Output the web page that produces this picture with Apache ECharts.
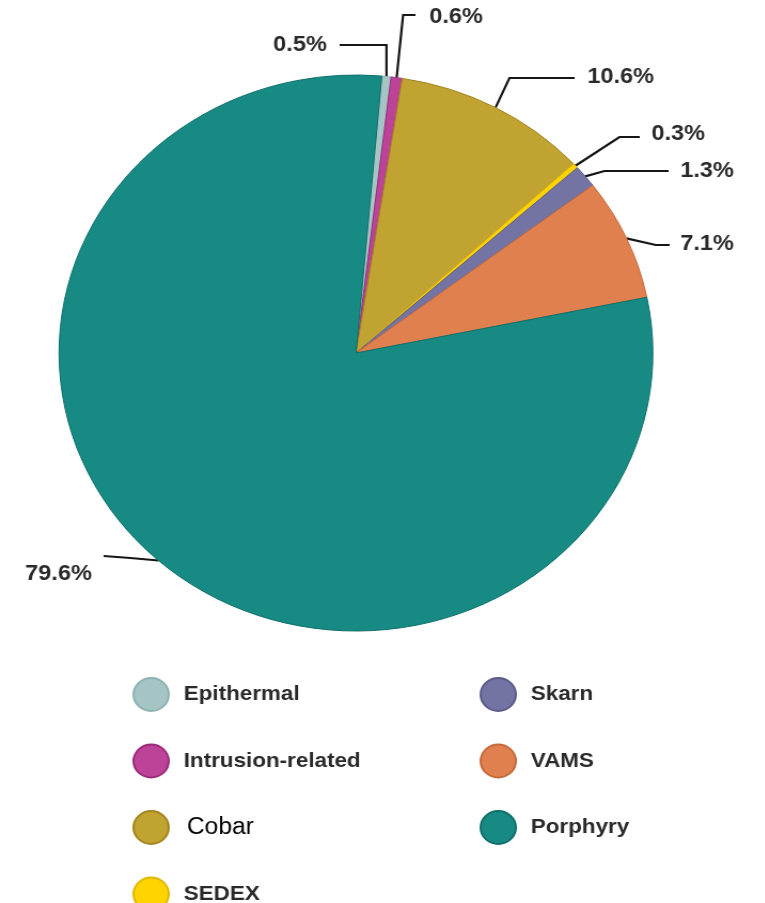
<!DOCTYPE html>
<html>
<head>
<meta charset="utf-8">
<script src="https://cdn.jsdelivr.net/npm/echarts@6/dist/echarts.min.js"></script>
<style>
  html, body { margin: 0; padding: 0; background: #fff; overflow: hidden; }
  #wrap { width: 765px; height: 903px; overflow: hidden; }
  #chart { height: 960px; transform-origin: 0 0; }
</style>
</head>
<body>
<div id="wrap"><div id="chart"></div></div>
<script>
// Deposit types and their share of the total (%)
const categories = ['Epithermal', 'Intrusion-related', 'Cobar', 'SEDEX', 'Skarn', 'VAMS', 'Porphyry'];
const shares = [0.5, 0.6, 10.6, 0.3, 1.3, 7.1, 79.6];

// Legend columns
const legendLeft = ['Epithermal', 'Intrusion-related', 'Cobar', 'SEDEX'];
const legendRight = ['Skarn', 'VAMS', 'Porphyry'];

// Slice fills and their darker outlines
const fills = ['#a5c5c5', '#bc4398', '#c1a331', '#fdd300', '#7474a4', '#e0804f', '#188a84'];
const edges = ['#8fb2b2', '#9b2c7c', '#a38620', '#e2b700', '#5c5c8b', '#c66a3b', '#0f706b'];

// The artwork is slightly wider than tall: draw in a narrower box and stretch it
const STRETCH = 1.068;
const W = 765 / STRETCH;

// Where each value label sits and how its connector bends (chart pixels)
const labelGuides = [
  { x: 306, y: 45,  align: 'right', bendDX: 0,  bendY: 45,  end: [318, 45] },
  { x: 402, y: 17,  align: 'left',  bendDX: 6,  bendY: 15,  end: [389, 15] },
  { x: 550, y: 77,  align: 'left',  bendX: 477, bendY: 78,  end: [538, 78] },
  { x: 610, y: 134, align: 'left',  bendX: 580, bendY: 137, end: [599, 137] },
  { x: 637, y: 171, align: 'left',  bendX: 566, bendY: 171, end: [626, 171] },
  { x: 637, y: 244, align: 'left',  bendX: 614, bendY: 245, end: [627, 245] },
  { x: 86,  y: 574, align: 'right', bendX: 122, bendY: 558, end: [97, 556] }
];

const el = document.getElementById('chart');
el.style.width = W + 'px';
el.style.transform = 'scaleX(' + STRETCH + ')';

const chart = echarts.init(el, null, { renderer: 'canvas' });

const FONT = '"Liberation Sans", Arial, Helvetica, sans-serif';

const pieData = categories.map((name, i) => ({
  name: name,
  value: shares[i],
  itemStyle: { color: fills[i], borderColor: edges[i], borderWidth: 1 }
}));

function legendBlock(names, left) {
  return {
    data: names,
    orient: 'vertical',
    left: left,
    top: 677,
    padding: 0,
    itemWidth: 33,
    itemHeight: 33,
    itemGap: 31.5,
    icon: 'circle',
    selectedMode: false,
    formatter: function (name) {
      return name === 'Cobar' ? '{plain|' + name + '}' : name;
    },
    textStyle: {
      fontFamily: FONT,
      fontSize: 21,
      fontWeight: 'bold',
      color: '#2a2a2a',
      padding: [0, 0, 0, 9],
      textBorderColor: '#ffffff',
      textBorderWidth: 2,
      rich: {
        plain: { fontFamily: FONT, fontSize: 23, fontWeight: 'normal', color: '#000000', padding: [0, 0, 0, 3] }
      }
    }
  };
}

chart.setOption({
  backgroundColor: '#ffffff',
  animation: false,
  legend: [legendBlock(legendLeft, 124), legendBlock(legendRight, 449)],
  series: [{
    type: 'pie',
    center: [333.3, 353],
    radius: 278,
    startAngle: 85,
    clockwise: true,
    avoidLabelOverlap: false,
    data: pieData,
    label: {
      show: true,
      position: 'outside',
      formatter: function (p) { return p.value.toFixed(1) + '%'; },
      fontFamily: FONT,
      fontSize: 22,
      fontWeight: 'bold',
      color: '#2a2a2a',
      textBorderColor: '#ffffff',
      textBorderWidth: 2
    },
    labelLine: {
      show: true,
      length: 20,
      length2: 20,
      smooth: false,
      lineStyle: { color: '#161616', width: 2.2 }
    },
    labelLayout: function (params) {
      const g = labelGuides[params.dataIndex];
      const pts = params.labelLinePoints;
      const start = pts && pts[0] ? pts[0] : [g.end[0], g.end[1]];
      const bx = g.bendX !== undefined ? g.bendX : start[0] + g.bendDX;
      return {
        x: g.x,
        y: g.y,
        align: g.align,
        verticalAlign: 'middle',
        labelLinePoints: [start, [bx, g.bendY], g.end]
      };
    },
    emphasis: { disabled: true }
  }]
});
</script>
</body>
</html>
